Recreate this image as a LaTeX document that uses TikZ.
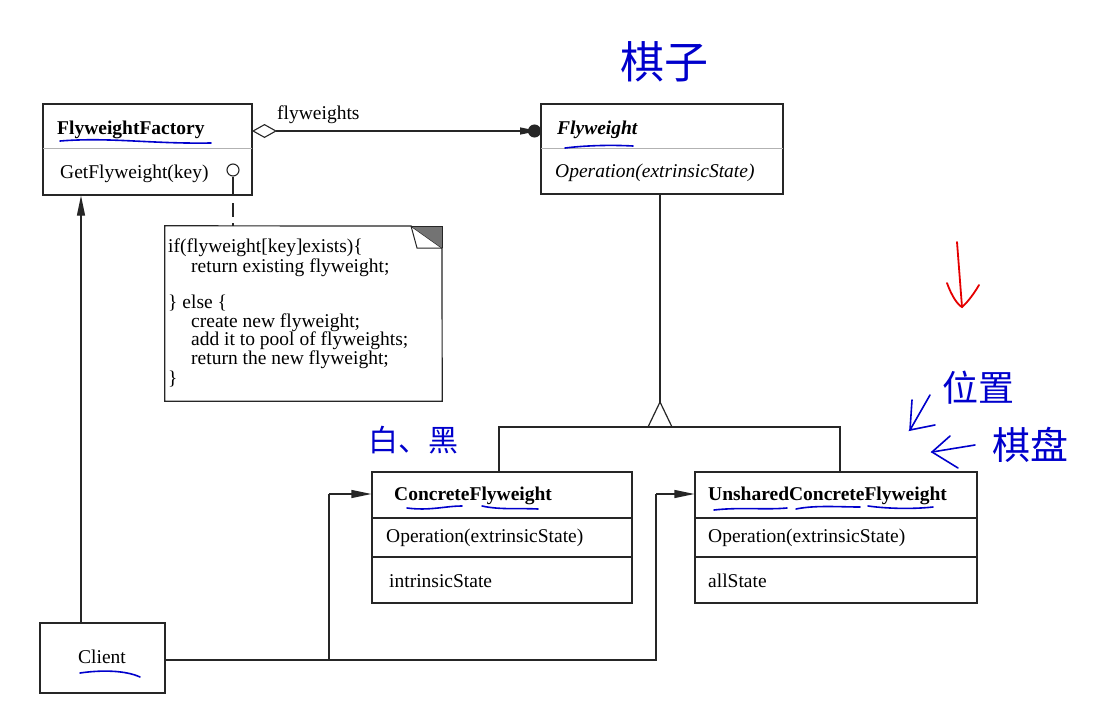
\documentclass[tikz,border=0pt]{standalone}
\usepackage{fontspec}
\setmainfont{Liberation Serif}
\newfontfamily\cjk{Noto Sans CJK SC}
\usetikzlibrary{arrows.meta}
\begin{document}
\begin{tikzpicture}[x=1pt,y=-1pt,
  box/.style={draw=black!85,line width=1.2pt,inner sep=0pt},
  txt/.style={anchor=base west,inner sep=0pt,font=\fontsize{19.5}{21}\selectfont},
  lightdiv/.style={draw=black!30,line width=0.9pt},
  darkdiv/.style={draw=black!85,line width=1.2pt},
  conn/.style={draw=black!85,line width=1.2pt},
  tipA/.style={-{Triangle[length=20pt,width=8pt]}},
  hand/.style={draw=blue!80!black,line width=1.6pt,line cap=round},
  handtxt/.style={text=blue!80!black,inner sep=0pt}]
\useasboundingbox (0,0) rectangle (1102,710);
\fill[white] (0,0) rectangle (1102,710);

% FlyweightFactory
\node[box,minimum width=209pt,minimum height=91pt] (factory) at (147.5,149.5) {};
\draw[lightdiv] (43,148) -- (252,148);
\node[txt,font=\fontsize{19.5}{21}\selectfont\bfseries] (factoryT) at (57,134) {FlyweightFactory};
\node[txt] (factoryOp) at (60,178) {GetFlyweight(key)};
\node[draw=black!85,fill=white,line width=1.1pt,circle,minimum size=12pt,inner sep=0pt] (lolli) at (233,170) {};

% Flyweight
\node[box,minimum width=242pt,minimum height=90pt] (fly) at (662,149) {};
\draw[lightdiv] (541,148) -- (783,148);
\node[txt,font=\fontsize{19.5}{21}\selectfont\bfseries\itshape] (flyT) at (557,134) {Flyweight};
\node[txt,font=\fontsize{19.5}{21}\selectfont\itshape] (flyOp) at (555,177) {Operation(extrinsicState)};

% aggregation
\coordinate (aggS) at (252,131);
\coordinate (aggE) at (541,131);
\draw[conn,{Diamond[open,length=25pt,width=14pt,line width=1.1pt]}-{Triangle[length=18pt,width=7pt,sep=-10pt]Circle[length=13pt]}] (aggS) -- (aggE);
\node[txt] (flylabel) at (277,119) {flyweights};

% note
\node[inner sep=0pt,minimum width=277pt,minimum height=175pt] (note) at (303.5,313.5) {};
\draw[line width=1.2pt,draw=black!85,line join=miter] (note.north west) -- (411,226) -- (442,248) -- (note.south east) -- (note.south west) -- cycle;
\fill[black!55] (411,226) -- (442,226) -- (442,248) -- cycle;
\draw[line width=1pt,draw=black!85] (411,226) -- (442,226) -- (442,248);
\draw[line width=1pt,draw=black!85] (411,226) -- (417,248) -- (442,248);
\node[txt] (n1) at (168,252) {if(flyweight[key]exists)\{};
\node[txt] (n2) at (191,272) {return existing flyweight;};
\node[txt] (n3) at (168,308) {\} else \{};
\node[txt] (n4) at (191,327) {create new flyweight;};
\node[txt] (n5) at (191,345) {add it to pool of flyweights;};
\node[txt] (n6) at (191,364) {return the new flyweight;};
\node[txt] (n7) at (168,384) {\}};

% lollipop to note
\coordinate (lolliB) at (233,195);
\draw[conn,line width=1.1pt] (lolli.south) -- (lolliB);
\draw[conn,line width=1.1pt,dash pattern=on 14pt off 6pt] (lolliB) ++(0,8) -- (233,226);

% ConcreteFlyweight
\node[box,minimum width=260pt,minimum height=131pt] (conc) at (502,537.5) {};
\draw[darkdiv] (372,518) -- (632,518);
\draw[darkdiv] (372,557) -- (632,557);
\node[txt,font=\fontsize{19.5}{21}\selectfont\bfseries] (concT) at (394,500) {ConcreteFlyweight};
\node[txt] (concOp) at (386,542) {Operation(extrinsicState)};
\node[txt] (concSt) at (389,587) {intrinsicState};

% UnsharedConcreteFlyweight
\node[box,minimum width=282pt,minimum height=131pt] (uns) at (836,537.5) {};
\draw[darkdiv] (695,518) -- (977,518);
\draw[darkdiv] (695,557) -- (977,557);
\node[txt,font=\fontsize{19.5}{21}\selectfont\bfseries] (unsT) at (708,500) {UnsharedConcreteFlyweight};
\node[txt] (unsOp) at (708,542) {Operation(extrinsicState)};
\node[txt] (unsSt) at (708,587) {allState};

% Client
\node[box,minimum width=125pt,minimum height=70pt] (client) at (102.5,658) {};
\node[txt] (clientT) at (78,663) {Client};

% generalization
\coordinate (triTop) at (660,402);
\coordinate (triBase) at (660,427);
\draw[conn] (fly.south -| triTop) -- (triTop);
\draw[conn,line join=miter] (triTop) -- (648,427) -- (672,427) -- cycle;
\draw[conn] (conc.north -| 499,0) -- (499,427) -- (840,427) -- (uns.north -| 840,0);

% client connections
\coordinate (jA) at (329,660);
\coordinate (jB) at (656,660);
\draw[conn] (client.east |- jA) -- (jB) -- (656,494);
\draw[conn,tipA] (656,494) -- (uns.west |- 0,494);
\draw[conn] (jA) -- (329,494);
\draw[conn,tipA] (329,494) -- (conc.west |- 0,494);
\draw[conn,tipA] (client.north -| 81,0) -- (factory.south -| 81,0);

% hand annotations
\draw[hand] (60,141) .. controls (110,137) and (150,144) .. (211,143);
\draw[hand] (565,148) .. controls (590,145) and (615,145) .. (633,146);
\draw[hand] (407,508) .. controls (430,511) and (445,506) .. (462,506);
\draw[hand] (482,506) .. controls (500,510) and (520,508) .. (538,509);
\draw[hand] (714,510) .. controls (740,507) and (765,510) .. (787,508);
\draw[hand] (796,509) .. controls (815,505) and (840,507) .. (860,507);
\draw[hand] (868,506) .. controls (890,509) and (915,509) .. (933,507);
\draw[hand] (80,673) .. controls (100,670) and (125,670) .. (140,677);
\node[handtxt,font=\cjk\fontsize{44}{44}\selectfont] (qizi) at (664,62) {棋子};
\node[handtxt,font=\cjk\fontsize{30}{30}\selectfont] (baihei) at (413,440) {白、黑};
\node[handtxt,font=\cjk\fontsize{36}{36}\selectfont] (weizhi) at (978,388) {位置};
\node[handtxt,font=\cjk\fontsize{38}{38}\selectfont] (qipan) at (1030,445) {棋盘};
\coordinate (a1s) at (930,395);
\coordinate (a1e) at (910,430);
\draw[hand] (a1s) -- (a1e) -- (935,425);
\draw[hand] (a1e) -- (912,400);
\coordinate (a2s) at (975,445);
\coordinate (a2e) at (932,452);
\draw[hand] (a2s) -- (a2e);
\draw[hand] (950,436) -- (a2e) -- (958,468);
\coordinate (r1) at (957,242);
\coordinate (r2) at (962,307);
\draw[draw=red!90!black,line width=1.8pt,line cap=round] (r1) -- (r2);
\draw[draw=red!90!black,line width=1.8pt,line cap=round] (947,283) .. controls (952,297) and (958,305) .. (r2) .. controls (968,302) and (975,292) .. (979,285);
\end{tikzpicture}
\end{document}
